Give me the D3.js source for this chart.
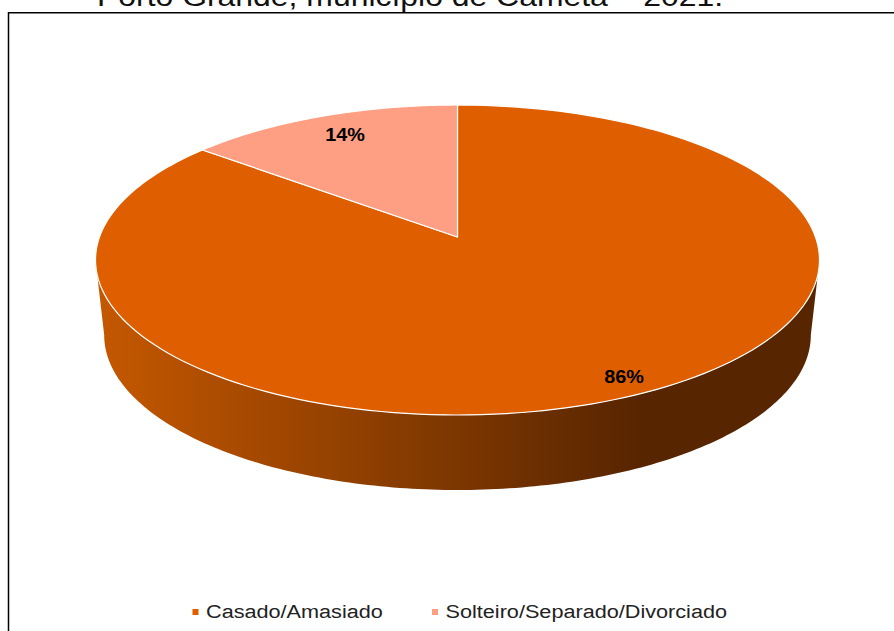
<!DOCTYPE html>
<html>
<head>
<meta charset="utf-8">
<script src="https://cdn.jsdelivr.net/npm/d3@7"></script>
<style>
  html, body { margin: 0; padding: 0; background: #fff; overflow: hidden; }
  text { font-family: "Liberation Sans", Arial, sans-serif; }
</style>
</head>
<body>
<div id="grafico"></div>
<script>
var categorias = ["Casado/Amasiado", "Solteiro/Separado/Divorciado"];
var valores = [85.8, 14.2];
var cores = ["#df5f00", "#fe9e82"];
var titulo = "Porto Grande, município de Cametá – 2021.";

var largura = 894, altura = 631;

var svg = d3.select("#grafico").append("svg")
  .attr("width", largura)
  .attr("height", altura);

// projecao da pizza inclinada (o centro fica acima do meio da elipse)
var cx = 457.5, k = -0.1484;
function topo(ang) {
  var u = Math.sin(ang), v = -Math.cos(ang), w = 1 + k * v;
  return [cx + 358 * u / w, (237 + 116.4 * v) / w];
}
function base(ang) {
  var p = topo(ang);
  return [cx + (p[0] - cx) * 0.976, p[1] + 75];
}

var pie = d3.pie().sort(null).startAngle(0).endAngle(2 * Math.PI);
var fatias = pie(valores);

function amostra(a0, a1, f) {
  return d3.range(0, 181).map(function (i) { return f(a0 + (a1 - a0) * i / 180); });
}
var linha = d3.line();

var defs = svg.append("defs");
var grad = defs.append("linearGradient").attr("id", "lateral")
  .attr("gradientUnits", "userSpaceOnUse")
  .attr("x1", 96).attr("x2", 640).attr("y1", 0).attr("y2", 0);
grad.append("stop").attr("offset", "0%").attr("stop-color", "#c55800");
grad.append("stop").attr("offset", "100%").attr("stop-color", "#572500");

svg.append("path").attr("d", "M8.5,631V12.7H894").attr("fill", "none").attr("stroke", "#000").attr("stroke-width", 1.5);

// o titulo fica cortado na borda superior, como na imagem original
svg.append("text").attr("transform", "translate(97,5.5) scale(1.14,1)")
  .attr("font-size", 28).attr("fill", "#111").text(titulo);

// lateral: metade da frente, de uma borda mais larga a outra
var a0 = Math.PI / 2 + 0.149, a1 = 3 * Math.PI / 2 - 0.149;
var frente = amostra(a0, a1, topo).concat(amostra(a0, a1, base).reverse());
svg.append("path").attr("d", linha(frente) + "Z").attr("fill", "url(#lateral)");

svg.selectAll("path.fatia").data(fatias).join("path")
  .attr("class", "fatia")
  .attr("d", function (d) {
    return linha(amostra(d.startAngle, d.endAngle, topo).concat([[cx, 237]])) + "Z";
  })
  .attr("fill", function (d, i) { return cores[i]; })
  .attr("stroke", "#fff")
  .attr("stroke-width", 1.2)
  .attr("stroke-linejoin", "round");

// rotulos
var posRotulo = [[624, 377], [345, 135]];
svg.selectAll("text.rotulo").data(valores).join("text")
  .attr("class", "rotulo")
  .attr("transform", function (d, i) { return "translate(" + posRotulo[i] + ") scale(1.1,1)"; })
  .attr("dy", "0.35em")
  .attr("text-anchor", "middle")
  .attr("font-size", 18)
  .attr("font-weight", "bold")
  .attr("fill", "#000")
  .text(function (d) { return Math.round(d) + "%"; });

// legenda
var legX = [192.5, 432];
var leg = svg.selectAll("g.legenda").data(categorias).join("g")
  .attr("class", "legenda")
  .attr("transform", function (d, i) { return "translate(" + legX[i] + ",612)"; });
leg.append("rect").attr("x", 0).attr("y", -3).attr("width", 6).attr("height", 6)
  .attr("fill", function (d, i) { return cores[i]; });
leg.append("text").attr("transform", "translate(13.5,-0.5) scale(1.14,1)").attr("dy", "0.35em")
  .attr("font-size", 19).attr("fill", "#222").text(function (d) { return d; });
</script>
</body>
</html>
